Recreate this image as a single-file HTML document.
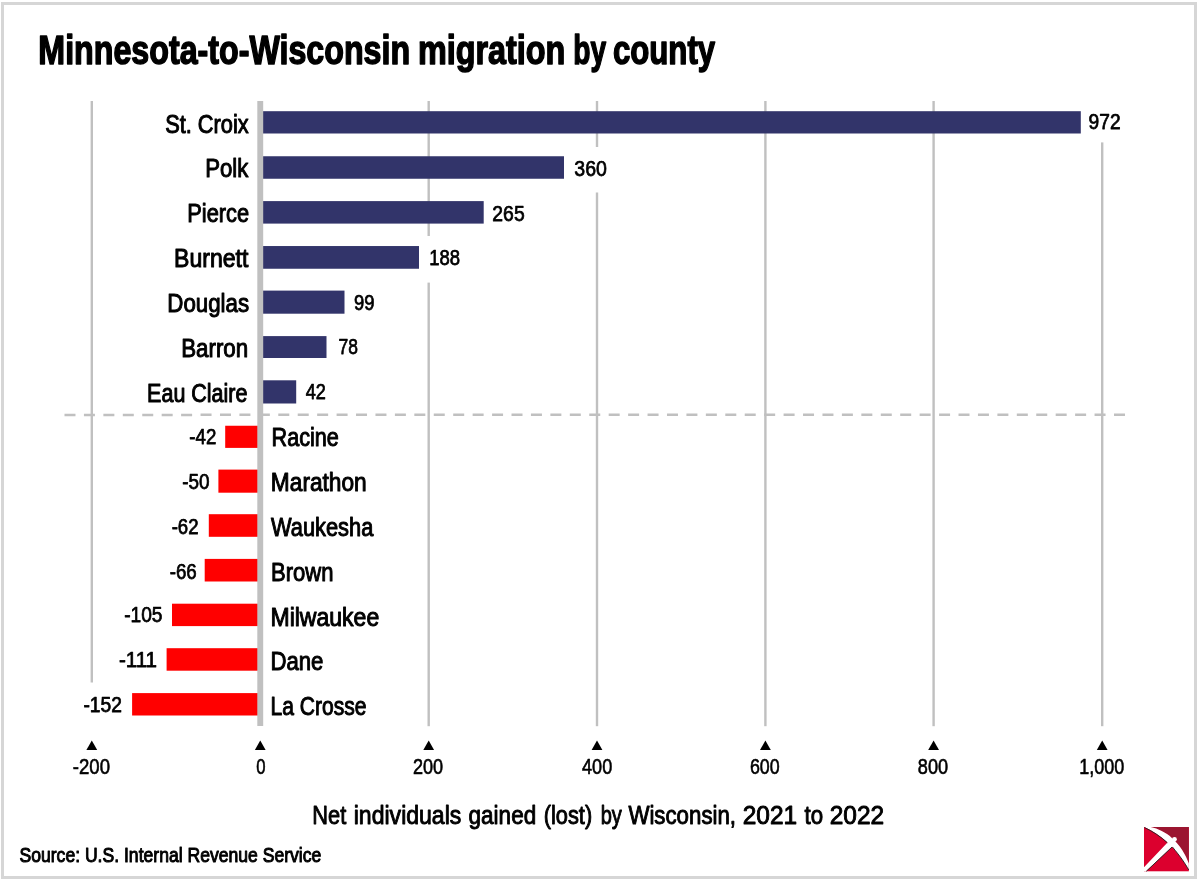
<!DOCTYPE html><html><head><meta charset="utf-8"><title>Minnesota-to-Wisconsin migration by county</title><style>html,body{margin:0;padding:0;background:#fff;width:1200px;height:880px;overflow:hidden}svg{display:block;will-change:transform}</style></head><body><svg width="1200" height="880" viewBox="0 0 1200 880">
<rect x="0" y="0" width="1200" height="880" fill="#fff"/>
<rect x="2.5" y="3.5" width="1193" height="874" fill="#fff" stroke="#d6d6d6" stroke-width="3"/>
<rect class="shape" x="90.60" y="101" width="2.4" height="581.50" fill="#c0c0c0"/>
<rect class="shape" x="427.50" y="101" width="2.4" height="135.00" fill="#c0c0c0"/>
<rect class="shape" x="427.50" y="282.6" width="2.4" height="443.60" fill="#c0c0c0"/>
<rect class="shape" x="595.80" y="101" width="2.4" height="46.00" fill="#c0c0c0"/>
<rect class="shape" x="595.80" y="192.5" width="2.4" height="533.70" fill="#c0c0c0"/>
<rect class="shape" x="764.20" y="101" width="2.4" height="625.20" fill="#c0c0c0"/>
<rect class="shape" x="932.40" y="101" width="2.4" height="625.20" fill="#c0c0c0"/>
<rect class="shape" x="1101.00" y="142.4" width="2.4" height="583.80" fill="#c0c0c0"/>
<line class="shape" x1="64.5" y1="414.9" x2="1127" y2="414.7" stroke="#c0c0c0" stroke-width="2.5" stroke-dasharray="11 8.435"/>
<rect class="shape" x="260.20" y="111.20" width="820.60" height="22.30" fill="#32346a"/>
<rect class="shape" x="260.20" y="156.25" width="303.80" height="22.50" fill="#32346a"/>
<rect class="shape" x="260.20" y="201.10" width="223.50" height="22.50" fill="#32346a"/>
<rect class="shape" x="260.20" y="246.04" width="158.80" height="22.71" fill="#32346a"/>
<rect class="shape" x="260.20" y="290.60" width="84.30" height="23.10" fill="#32346a"/>
<rect class="shape" x="260.20" y="336.10" width="66.30" height="21.90" fill="#32346a"/>
<rect class="shape" x="260.20" y="380.30" width="36.00" height="23.20" fill="#32346a"/>
<rect class="shape" x="225.20" y="425.75" width="35.00" height="22.15" fill="#ff0000"/>
<rect class="shape" x="218.40" y="469.60" width="41.80" height="23.10" fill="#ff0000"/>
<rect class="shape" x="208.80" y="514.20" width="51.40" height="22.60" fill="#ff0000"/>
<rect class="shape" x="204.70" y="558.90" width="55.50" height="22.60" fill="#ff0000"/>
<rect class="shape" x="172.00" y="603.70" width="88.20" height="22.40" fill="#ff0000"/>
<rect class="shape" x="166.60" y="648.20" width="93.60" height="22.50" fill="#ff0000"/>
<rect class="shape" x="132.10" y="693.10" width="128.10" height="22.40" fill="#ff0000"/>
<rect class="shape" x="257.3" y="101" width="5.9" height="625" fill="#c0c0c0"/>
<g font-family="Liberation Sans, sans-serif" fill="#000">
<text x="38.34" y="64.40" font-size="40.5" font-weight="bold" textLength="371.82" lengthAdjust="spacingAndGlyphs" stroke="#000" stroke-width="1.5" stroke-linejoin="round">Minnesota-to-Wisconsin</text>
<text x="417.96" y="64.40" font-size="40.5" font-weight="bold" textLength="147.43" lengthAdjust="spacingAndGlyphs" stroke="#000" stroke-width="1.5" stroke-linejoin="round">migration</text>
<text x="573.19" y="64.40" font-size="40.5" font-weight="bold" textLength="32.87" lengthAdjust="spacingAndGlyphs" stroke="#000" stroke-width="1.5" stroke-linejoin="round">by</text>
<text x="612.89" y="64.40" font-size="40.5" font-weight="bold" textLength="102.29" lengthAdjust="spacingAndGlyphs" stroke="#000" stroke-width="1.5" stroke-linejoin="round">county</text>
<text x="165.18" y="132.60" font-size="25.5" font-weight="normal" textLength="83.57" lengthAdjust="spacingAndGlyphs" stroke="#000" stroke-width="1.0" stroke-linejoin="round">St. Croix</text>
<text x="205.17" y="177.42" font-size="25.5" font-weight="normal" textLength="43.18" lengthAdjust="spacingAndGlyphs" stroke="#000" stroke-width="1.0" stroke-linejoin="round">Polk</text>
<text x="187.33" y="222.24" font-size="25.5" font-weight="normal" textLength="61.74" lengthAdjust="spacingAndGlyphs" stroke="#000" stroke-width="1.0" stroke-linejoin="round">Pierce</text>
<text x="174.02" y="267.06" font-size="25.5" font-weight="normal" textLength="74.34" lengthAdjust="spacingAndGlyphs" stroke="#000" stroke-width="1.0" stroke-linejoin="round">Burnett</text>
<text x="167.33" y="311.88" font-size="25.5" font-weight="normal" textLength="81.74" lengthAdjust="spacingAndGlyphs" stroke="#000" stroke-width="1.0" stroke-linejoin="round">Douglas</text>
<text x="181.17" y="356.70" font-size="25.5" font-weight="normal" textLength="67.02" lengthAdjust="spacingAndGlyphs" stroke="#000" stroke-width="1.0" stroke-linejoin="round">Barron</text>
<text x="147.10" y="401.52" font-size="25.5" font-weight="normal" textLength="100.34" lengthAdjust="spacingAndGlyphs" stroke="#000" stroke-width="1.0" stroke-linejoin="round">Eau Claire</text>
<text x="271.56" y="446.34" font-size="25.5" font-weight="normal" textLength="67.30" lengthAdjust="spacingAndGlyphs" stroke="#000" stroke-width="1.0" stroke-linejoin="round">Racine</text>
<text x="270.86" y="491.16" font-size="25.5" font-weight="normal" textLength="95.87" lengthAdjust="spacingAndGlyphs" stroke="#000" stroke-width="1.0" stroke-linejoin="round">Marathon</text>
<text x="270.96" y="535.98" font-size="25.5" font-weight="normal" textLength="102.31" lengthAdjust="spacingAndGlyphs" stroke="#000" stroke-width="1.0" stroke-linejoin="round">Waukesha</text>
<text x="271.02" y="580.80" font-size="25.5" font-weight="normal" textLength="62.39" lengthAdjust="spacingAndGlyphs" stroke="#000" stroke-width="1.0" stroke-linejoin="round">Brown</text>
<text x="270.48" y="625.62" font-size="25.5" font-weight="normal" textLength="108.74" lengthAdjust="spacingAndGlyphs" stroke="#000" stroke-width="1.0" stroke-linejoin="round">Milwaukee</text>
<text x="270.48" y="670.44" font-size="25.5" font-weight="normal" textLength="52.95" lengthAdjust="spacingAndGlyphs" stroke="#000" stroke-width="1.0" stroke-linejoin="round">Dane</text>
<text x="270.48" y="715.26" font-size="25.5" font-weight="normal" textLength="95.97" lengthAdjust="spacingAndGlyphs" stroke="#000" stroke-width="1.0" stroke-linejoin="round">La Crosse</text>
<text x="1088.60" y="128.90" font-size="21.5" font-weight="normal" textLength="31.97" lengthAdjust="spacingAndGlyphs" stroke="#000" stroke-width="0.75" stroke-linejoin="round">972</text>
<text x="574.37" y="176.00" font-size="21.5" font-weight="normal" textLength="32.53" lengthAdjust="spacingAndGlyphs" stroke="#000" stroke-width="0.75" stroke-linejoin="round">360</text>
<text x="492.36" y="220.70" font-size="21.5" font-weight="normal" textLength="32.29" lengthAdjust="spacingAndGlyphs" stroke="#000" stroke-width="0.75" stroke-linejoin="round">265</text>
<text x="429.28" y="265.00" font-size="21.5" font-weight="normal" textLength="30.85" lengthAdjust="spacingAndGlyphs" stroke="#000" stroke-width="0.75" stroke-linejoin="round">188</text>
<text x="353.98" y="310.30" font-size="21.5" font-weight="normal" textLength="20.44" lengthAdjust="spacingAndGlyphs" stroke="#000" stroke-width="0.75" stroke-linejoin="round">99</text>
<text x="338.44" y="354.30" font-size="21.5" font-weight="normal" textLength="19.39" lengthAdjust="spacingAndGlyphs" stroke="#000" stroke-width="0.75" stroke-linejoin="round">78</text>
<text x="305.76" y="398.90" font-size="21.5" font-weight="normal" textLength="20.13" lengthAdjust="spacingAndGlyphs" stroke="#000" stroke-width="0.75" stroke-linejoin="round">42</text>
<text x="189.36" y="444.20" font-size="21.5" font-weight="normal" textLength="26.97" lengthAdjust="spacingAndGlyphs" stroke="#000" stroke-width="0.75" stroke-linejoin="round">-42</text>
<text x="182.21" y="489.20" font-size="21.5" font-weight="normal" textLength="27.34" lengthAdjust="spacingAndGlyphs" stroke="#000" stroke-width="0.75" stroke-linejoin="round">-50</text>
<text x="171.68" y="534.10" font-size="21.5" font-weight="normal" textLength="26.90" lengthAdjust="spacingAndGlyphs" stroke="#000" stroke-width="0.75" stroke-linejoin="round">-62</text>
<text x="169.68" y="578.60" font-size="21.5" font-weight="normal" textLength="27.03" lengthAdjust="spacingAndGlyphs" stroke="#000" stroke-width="0.75" stroke-linejoin="round">-66</text>
<text x="124.14" y="622.30" font-size="21.5" font-weight="normal" textLength="38.37" lengthAdjust="spacingAndGlyphs" stroke="#000" stroke-width="0.75" stroke-linejoin="round">-105</text>
<text x="118.90" y="667.10" font-size="21.5" font-weight="normal" textLength="38.20" lengthAdjust="spacingAndGlyphs" stroke="#000" stroke-width="0.75" stroke-linejoin="round">-111</text>
<text x="83.45" y="711.70" font-size="21.5" font-weight="normal" textLength="38.53" lengthAdjust="spacingAndGlyphs" stroke="#000" stroke-width="0.75" stroke-linejoin="round">-152</text>
<text x="72.83" y="774.30" font-size="21.5" font-weight="normal" textLength="37.15" lengthAdjust="spacingAndGlyphs" stroke="#000" stroke-width="0.6" stroke-linejoin="round">-200</text>
<text x="256.37" y="774.30" font-size="21.5" font-weight="normal" textLength="9.29" lengthAdjust="spacingAndGlyphs" stroke="#000" stroke-width="0.6" stroke-linejoin="round">0</text>
<text x="412.91" y="774.30" font-size="21.5" font-weight="normal" textLength="30.18" lengthAdjust="spacingAndGlyphs" stroke="#000" stroke-width="0.6" stroke-linejoin="round">200</text>
<text x="582.07" y="774.30" font-size="21.5" font-weight="normal" textLength="30.14" lengthAdjust="spacingAndGlyphs" stroke="#000" stroke-width="0.6" stroke-linejoin="round">400</text>
<text x="749.91" y="774.30" font-size="21.5" font-weight="normal" textLength="29.73" lengthAdjust="spacingAndGlyphs" stroke="#000" stroke-width="0.6" stroke-linejoin="round">600</text>
<text x="917.83" y="774.30" font-size="21.5" font-weight="normal" textLength="30.28" lengthAdjust="spacingAndGlyphs" stroke="#000" stroke-width="0.6" stroke-linejoin="round">800</text>
<text x="1079.21" y="774.30" font-size="21.5" font-weight="normal" textLength="44.99" lengthAdjust="spacingAndGlyphs" stroke="#000" stroke-width="0.6" stroke-linejoin="round">1,000</text>
<text x="312.31" y="824.00" font-size="26" font-weight="normal" textLength="33.92" lengthAdjust="spacingAndGlyphs" stroke="#000" stroke-width="0.95" stroke-linejoin="round">Net</text>
<text x="353.76" y="824.00" font-size="26" font-weight="normal" textLength="107.57" lengthAdjust="spacingAndGlyphs" stroke="#000" stroke-width="0.95" stroke-linejoin="round">individuals</text>
<text x="468.55" y="824.00" font-size="26" font-weight="normal" textLength="67.65" lengthAdjust="spacingAndGlyphs" stroke="#000" stroke-width="0.95" stroke-linejoin="round">gained</text>
<text x="543.70" y="824.00" font-size="26" font-weight="normal" textLength="48.49" lengthAdjust="spacingAndGlyphs" stroke="#000" stroke-width="0.95" stroke-linejoin="round">(lost)</text>
<text x="600.70" y="824.00" font-size="26" font-weight="normal" textLength="21.14" lengthAdjust="spacingAndGlyphs" stroke="#000" stroke-width="0.95" stroke-linejoin="round">by</text>
<text x="628.40" y="824.00" font-size="26" font-weight="normal" textLength="107.64" lengthAdjust="spacingAndGlyphs" stroke="#000" stroke-width="0.95" stroke-linejoin="round">Wisconsin,</text>
<text x="742.70" y="824.00" font-size="26" font-weight="normal" textLength="54.40" lengthAdjust="spacingAndGlyphs" stroke="#000" stroke-width="0.95" stroke-linejoin="round">2021</text>
<text x="804.55" y="824.00" font-size="26" font-weight="normal" textLength="18.56" lengthAdjust="spacingAndGlyphs" stroke="#000" stroke-width="0.95" stroke-linejoin="round">to</text>
<text x="829.70" y="824.00" font-size="26" font-weight="normal" textLength="54.48" lengthAdjust="spacingAndGlyphs" stroke="#000" stroke-width="0.95" stroke-linejoin="round">2022</text>
<text x="19.49" y="862.00" font-size="21" font-weight="normal" textLength="301.80" lengthAdjust="spacingAndGlyphs" stroke="#000" stroke-width="1.0" stroke-linejoin="round">Source: U.S. Internal Revenue Service</text>
</g>
<path class="shape" d="M86.40,750.1 L97.20,750.1 L91.80,740.6 Z" fill="#000"/>
<path class="shape" d="M254.85,750.1 L265.65,750.1 L260.25,740.6 Z" fill="#000"/>
<path class="shape" d="M423.30,750.1 L434.10,750.1 L428.70,740.6 Z" fill="#000"/>
<path class="shape" d="M591.60,750.1 L602.40,750.1 L597.00,740.6 Z" fill="#000"/>
<path class="shape" d="M760.00,750.1 L770.80,750.1 L765.40,740.6 Z" fill="#000"/>
<path class="shape" d="M928.20,750.1 L939.00,750.1 L933.60,740.6 Z" fill="#000"/>
<path class="shape" d="M1096.80,750.1 L1107.60,750.1 L1102.20,740.6 Z" fill="#000"/>
<g class="shape" transform="translate(1144,827.1) scale(0.996,0.982)">
<rect x="0" y="0" width="45" height="45" fill="#dc002e"/>
<path d="M6.7,0 L45,0 L45,37 C42,28 36,18 28,11 C22,5.5 14,1.5 6.7,0 Z" fill="#9b1530"/>
<path d="M0.5,0 L6.7,0 C14,1.5 22,5.5 28,11 C36,18 42,28 45,37 L45,43.5 C41,36.5 37,30.5 28.3,20 L2.1,45 L0,45 L0,40.8 L23.6,15.6 C17,9.5 9,4 0.5,0 Z" fill="#fff"/>
<circle cx="30.6" cy="12.4" r="2.4" fill="#fff"/>
<path d="M0.4,0.4 C9,4.4 17,9.9 23.4,15.9 M28.1,20.3 L2.3,45 M28.6,20.3 C37,30.6 41,36.6 44.9,43.6" fill="none" stroke="#1e1e1e" stroke-width="0.9"/>
</g>
</svg></body></html>
